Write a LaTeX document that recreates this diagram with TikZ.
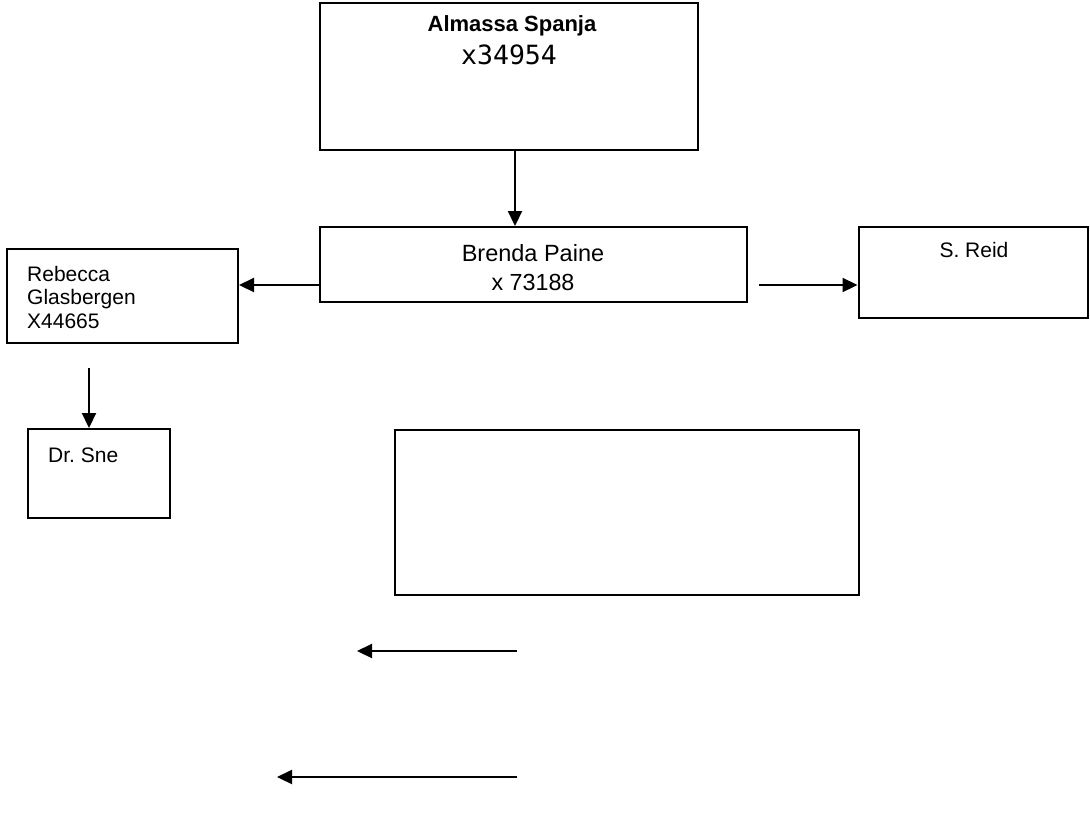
\documentclass[tikz,border=0pt]{standalone}
\usepackage{fontspec}
\setmainfont{Liberation Sans}
\newfontfamily\monofont{DejaVu Sans Mono}
\usetikzlibrary{arrows.meta}
\begin{document}
\begin{tikzpicture}[x=1pt,y=-1pt,
  box/.style={draw=black,line width=2pt,rectangle,inner sep=0pt,fill=white},
  lbl/.style={inner sep=0pt,font=\fontsize{21}{23.5}\selectfont},
  arr/.style={line width=2.2pt,-{Triangle[length=15pt,width=14pt]}}]
\useasboundingbox[fill=white] (0,0) rectangle (1090,817);
% boxes
\node[box,minimum width=378pt,minimum height=147pt] (topbox) at (509,76.5) {};
\node[box,minimum width=427pt,minimum height=75pt] (brenda) at (533.5,264.5) {};
\node[box,minimum width=231pt,minimum height=94pt] (rebecca) at (122.5,296) {};
\node[box,minimum width=229pt,minimum height=91pt] (reid) at (973,272.5) {};
\node[box,minimum width=142pt,minimum height=89pt] (drsne) at (99,473.5) {};
\node[box,minimum width=464pt,minimum height=165pt] (empty) at (626.5,512) {};
% texts
\node[lbl,font=\fontsize{22}{24}\selectfont\bfseries] (t1) at (512,26) {Almassa Spanja};
\node[inner sep=0pt,font=\fontsize{26.5}{28}\selectfont\monofont] (t2) at (509,55) {x34954};
\node[lbl,font=\fontsize{23.5}{26}\selectfont] (t3) at (533,253) {Brenda Paine};
\node[lbl,font=\fontsize{23.3}{26}\selectfont] (t4) at (533,282) {x 73188};
\node[lbl,anchor=west,align=left] (t5) at (27,297) {Rebecca\\Glasbergen\\X44665};
\node[lbl] (t6) at (974,250) {S. Reid};
\node[lbl,anchor=west] (t7) at (48,455) {Dr.\ Sne};
% connectors
\draw[arr] ([xshift=6pt]topbox.south) -- ([xshift=6pt]topbox.south |- brenda.north);
\draw[arr] ([yshift=-20.5pt]brenda.west) -- ([yshift=11pt]rebecca.east);
\draw[arr] ([shift={(11pt,-20.5pt)}]brenda.east) -- ([yshift=-12.5pt]reid.west);
\draw[arr] ([shift={(-33.5pt,-24pt)}]rebecca.south) -- ([xshift=-10pt]drsne.north);
\coordinate (a1s) at (517,651);
\coordinate (a1e) at (357,651);
\coordinate (a2s) at (517,777);
\coordinate (a2e) at (277,777);
\draw[arr] (a1s) -- (a1e);
\draw[arr] (a2s) -- (a2e);
\end{tikzpicture}
\end{document}
